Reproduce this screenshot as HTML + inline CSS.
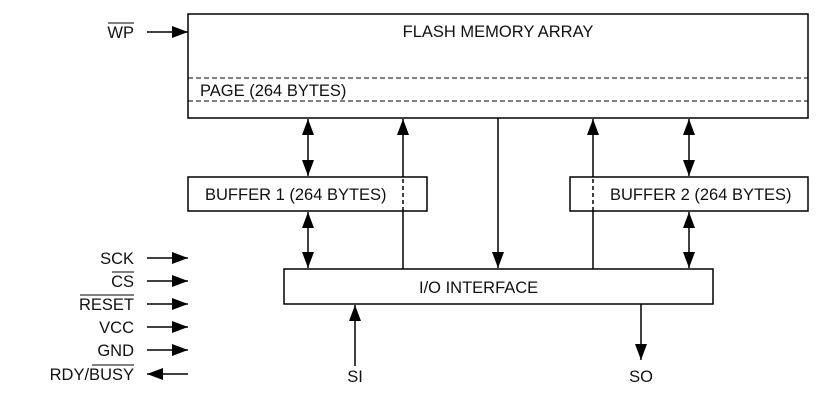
<!DOCTYPE html>
<html><head><style>body{margin:0;background:#fff}svg{display:block}text{font-family:"Liberation Sans",sans-serif;font-size:16.5px;fill:#111}</style></head><body>
<svg width="830" height="406" viewBox="0 0 830 406">
<defs>
<marker id="b" viewBox="0 0 16 12" refX="16" refY="6" markerWidth="16" markerHeight="12" markerUnits="userSpaceOnUse" orient="auto-start-reverse"><path d="M0,0 L16,6 L0,12Z" fill="#000"/></marker>
</defs>
<g stroke="#000" stroke-width="1.5" fill="none">
<rect x="188" y="14" width="620" height="104" fill="#fff"/>
<line x1="188" y1="78" x2="808" y2="78" stroke-dasharray="5,3" stroke-width="1"/>
<line x1="188" y1="101" x2="808" y2="101" stroke-dasharray="5,3" stroke-width="1"/>
<rect x="188" y="177" width="239" height="34"/>
<rect x="570" y="177" width="238" height="34"/>
<rect x="284" y="269" width="429" height="35"/>
<line x1="147" y1="32" x2="188" y2="32" marker-end="url(#b)"/>
<line x1="147" y1="258" x2="188" y2="258" marker-end="url(#b)"/>
<line x1="147" y1="281" x2="188" y2="281" marker-end="url(#b)"/>
<line x1="147" y1="304" x2="188" y2="304" marker-end="url(#b)"/>
<line x1="147" y1="327" x2="188" y2="327" marker-end="url(#b)"/>
<line x1="147" y1="350" x2="188" y2="350" marker-end="url(#b)"/>
<line x1="188" y1="374" x2="147" y2="374" marker-end="url(#b)"/>
<line x1="308" y1="119" x2="308" y2="176" marker-start="url(#b)" marker-end="url(#b)"/>
<line x1="308" y1="212" x2="308" y2="268" marker-start="url(#b)" marker-end="url(#b)"/>
<line x1="689" y1="119" x2="689" y2="176" marker-start="url(#b)" marker-end="url(#b)"/>
<line x1="689" y1="212" x2="689" y2="268" marker-start="url(#b)" marker-end="url(#b)"/>
<line x1="403" y1="269" x2="403" y2="211"/>
<line x1="403" y1="211" x2="403" y2="177" stroke-dasharray="4,3"/>
<line x1="403" y1="177" x2="403" y2="119" marker-end="url(#b)"/>
<line x1="593" y1="269" x2="593" y2="211"/>
<line x1="593" y1="211" x2="593" y2="177" stroke-dasharray="4,3"/>
<line x1="593" y1="177" x2="593" y2="119" marker-end="url(#b)"/>
<line x1="498" y1="118" x2="498" y2="268" marker-end="url(#b)"/>
<line x1="355" y1="366" x2="355" y2="305" marker-end="url(#b)"/>
<line x1="641" y1="304" x2="641" y2="360" marker-end="url(#b)"/>
</g>
<text x="498" y="37" text-anchor="middle">FLASH MEMORY ARRAY</text>
<text x="200" y="96">PAGE (264 BYTES)</text>
<text x="205" y="200">BUFFER 1 (264 BYTES)</text>
<text x="610" y="200">BUFFER 2 (264 BYTES)</text>
<text x="419" y="293">I/O INTERFACE</text>
<text x="355" y="382" text-anchor="middle">SI</text>
<text x="641" y="382" text-anchor="middle">SO</text>
<g text-anchor="end">
<text x="134" y="38">WP</text>
<text x="134" y="264">SCK</text>
<text x="134" y="287">CS</text>
<text x="134" y="310">RESET</text>
<text x="134" y="333">VCC</text>
<text x="134" y="356">GND</text>
<text x="134" y="380">RDY/BUSY</text>
</g>
<g stroke="#000" stroke-width="1">
<line x1="108" y1="23" x2="134" y2="23"/>
<line x1="112" y1="272" x2="134" y2="272"/>
<line x1="80" y1="295" x2="134" y2="295"/>
<line x1="92" y1="365" x2="134" y2="365"/>
</g>
</svg>
</body></html>
